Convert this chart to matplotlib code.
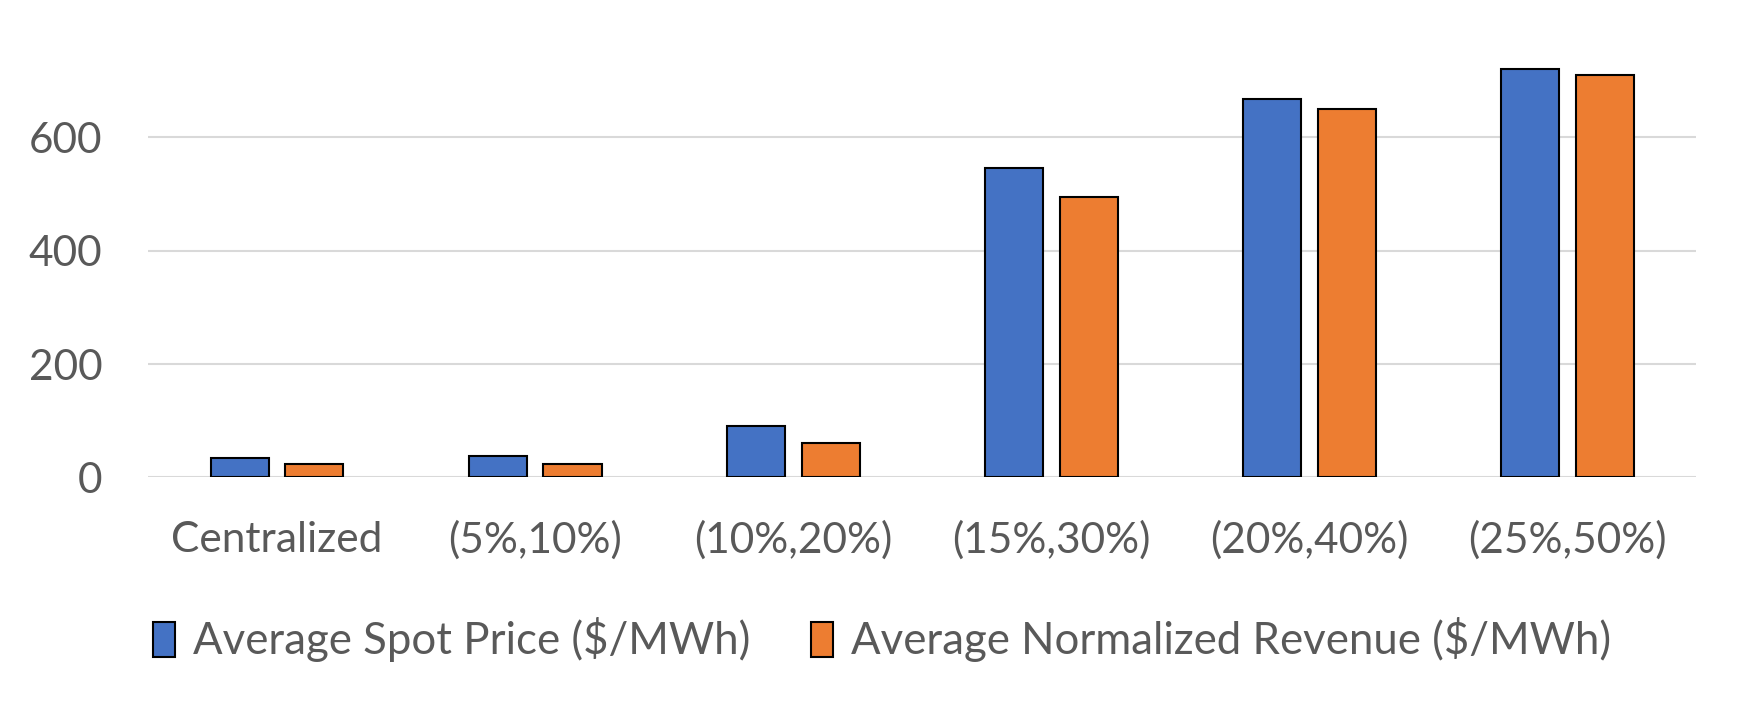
import matplotlib
matplotlib.use("Agg")
import matplotlib.pyplot as plt
import numpy as np

categories = ["Centralized", "(5%,10%)", "(10%,20%)", "(15%,30%)", "(20%,40%)", "(25%,50%)"]
spot_price = [35, 37, 90, 545, 667, 720]
norm_revenue = [23, 23, 60, 495, 650, 710]
series_names = ["Average Spot Price ($/MWh)", "Average Normalized Revenue ($/MWh)"]
yticks = [0, 200, 400, 600]

plt.rcParams['font.family'] = ['Lato', 'DejaVu Sans']
grey = '#595959'

fig = plt.figure(figsize=(17.47, 7.10), dpi=100)
ax = fig.add_axes([0.0847, 0.3275, 0.8863, 0.639])

x = np.arange(len(categories))
w = 0.225
off = 0.145
ax.bar(x - off, spot_price, w, color='#4472C4', edgecolor='black', linewidth=1.5,
       label=series_names[0], zorder=3)
ax.bar(x + off, norm_revenue, w, color='#ED7D31', edgecolor='black', linewidth=1.5,
       label=series_names[1], zorder=3)

ax.set_xlim(-0.5, len(categories) - 0.5)
ax.set_ylim(0, 800)
ax.set_yticks(yticks)
ax.set_xticks(x)
ax.set_xticklabels(categories)
ax.yaxis.grid(True, color='#D9D9D9', linewidth=1.5, zorder=0)
ax.axhline(0, color='#D9D9D9', linewidth=2, zorder=2)
for s in ax.spines.values():
    s.set_visible(False)
ax.tick_params(axis='both', length=0, labelsize=30.5, colors=grey)
ax.tick_params(axis='x', pad=31)
ax.tick_params(axis='y', pad=33)

handles, labels = ax.get_legend_handles_labels()
leg = fig.legend(handles, labels, loc='center', bbox_to_anchor=(0.505, 1 - 640 / 710),
                 ncol=2, frameon=False, fontsize=31.5, handlelength=0.5, handleheight=0.85,
                 handletextpad=0.4, columnspacing=1.4)
for t in leg.get_texts():
    t.set_color(grey)

fig.savefig("out.png", dpi=100)
